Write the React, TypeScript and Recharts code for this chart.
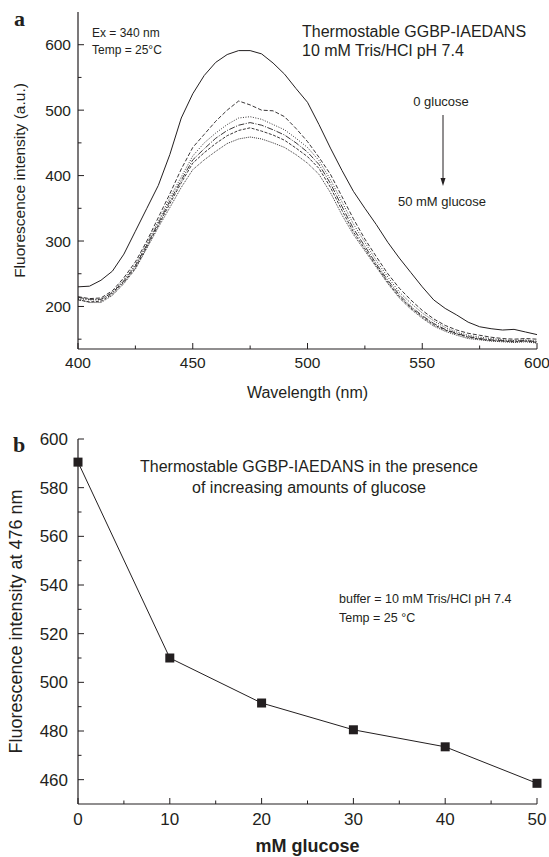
import { LineChart, Line, XAxis, YAxis } from "recharts"

const ink = "#231f20"

// panel a: emission spectra, one array per glucose level
const wavelengths = [
  400, 405, 410, 415, 420, 425, 430, 435, 440, 445, 450, 455, 460, 465, 470, 475, 480, 485, 490, 495,
  500, 505, 510, 515, 520, 525, 530, 535, 540, 545, 550, 555, 560, 565, 570, 575, 580, 585, 590, 595, 600,
]
const spec0mM = [
  230, 231, 240, 254, 280, 315, 350, 385, 432, 488, 525, 553, 573, 585, 591, 591, 586, 572, 555, 533,
  512, 478, 442, 408, 376, 350, 325, 298, 274, 252, 230, 210, 197, 187, 176, 169, 166, 164, 165, 161, 157,
]
const spec10mM = [
  215, 212, 213, 224, 244, 268, 300, 336, 372, 410, 443, 463, 483, 500, 514, 508, 500, 499, 490, 472,
  452, 428, 402, 368, 334, 303, 276, 250, 228, 210, 194, 181, 171, 164, 159, 156, 153, 151, 150, 151, 150,
]
const spec20mM = [
  212, 210, 210, 222, 241, 264, 297, 330, 366, 398, 430, 450, 465, 478, 488, 490, 486, 478, 470, 457,
  443, 423, 394, 360, 326, 298, 270, 245, 222, 205, 190, 178, 168, 161, 156, 153, 151, 149, 148, 149, 147,
]
const spec30mM = [
  214, 211, 211, 221, 239, 262, 294, 327, 361, 393, 424, 441, 457, 469, 477, 481, 477, 470, 462, 450,
  436, 417, 388, 353, 319, 292, 265, 240, 218, 200, 186, 174, 165, 159, 154, 151, 149, 148, 147, 148, 146,
]
const spec40mM = [
  210, 207, 208, 219, 237, 259, 291, 324, 357, 389, 419, 435, 449, 461, 469, 473, 468, 462, 454, 442,
  429, 411, 382, 347, 314, 288, 262, 237, 215, 198, 184, 172, 164, 158, 153, 150, 148, 147, 146, 147, 145,
]
const spec50mM = [
  211, 206, 206, 217, 235, 257, 289, 321, 351, 382, 409, 424, 437, 449, 456, 459, 456, 450, 443, 432,
  419, 402, 374, 340, 310, 285, 260, 235, 213, 196, 182, 170, 162, 156, 151, 149, 147, 146, 145, 146, 144,
]

const specTicksX = [400, 425, 450, 475, 500, 525, 550, 575, 600]
const specMajorX = [400, 450, 500, 550, 600]
const specTicksY = [150, 200, 250, 300, 350, 400, 450, 500, 550, 600]
const specMajorY = [200, 300, 400, 500, 600]

// panel b: intensity at 476 nm
const glucose = [0, 10, 20, 30, 40, 50]
const peak476 = [590.5, 510, 491.5, 480.5, 473.5, 458.5]

const glucTicksX = [0, 5, 10, 15, 20, 25, 30, 35, 40, 45, 50]
const glucMajorX = [0, 10, 20, 30, 40, 50]
const glucTicksY = [460, 470, 480, 490, 500, 510, 520, 530, 540, 550, 560, 570, 580, 590, 600]
const glucMajorY = [460, 480, 500, 520, 540, 560, 580, 600]

const spectra = wavelengths.map((w, i) => ({
  w,
  s0: spec0mM[i],
  s10: spec10mM[i],
  s20: spec20mM[i],
  s30: spec30mM[i],
  s40: spec40mM[i],
  s50: spec50mM[i],
}))
const titration = glucose.map((g, i) => ({ g, v: peak476[i] }))

// inward ticks, Origin style
const bottomTick = (majors: number[], gap: number, size: number) => (p: any) => {
  const major = majors.includes(p.payload.value)
  const y0 = p.y - gap
  return (
    <g>
      <line x1={p.x} x2={p.x} y1={y0} y2={y0 - (major ? 6 : 3.5)} stroke={ink} />
      {major && (
        <text x={p.x} y={p.y} dy="0.71em" textAnchor="middle" fontSize={size} fill={ink}>
          {p.payload.value}
        </text>
      )}
    </g>
  )
}
const leftTick = (majors: number[], gap: number, size: number) => (p: any) => {
  const major = majors.includes(p.payload.value)
  const x0 = p.x + gap
  return (
    <g>
      <line x1={x0} x2={x0 + (major ? 6 : 3.5)} y1={p.y} y2={p.y} stroke={ink} />
      {major && (
        <text x={p.x} y={p.y} dy="0.355em" textAnchor="end" fontSize={size} fill={ink}>
          {p.payload.value}
        </text>
      )}
    </g>
  )
}
const topTick = (majors: number[]) => (p: any) => (
  <line x1={p.x} x2={p.x} y1={p.y} y2={p.y + (majors.includes(p.payload.value) ? 6 : 3.5)} stroke={ink} />
)
const rightTick = (majors: number[]) => (p: any) => (
  <line x1={p.x} x2={p.x - (majors.includes(p.payload.value) ? 6 : 3.5)} y1={p.y} y2={p.y} stroke={ink} />
)

const axisLine = { stroke: ink, strokeWidth: 1.2 }

export default function App() {
  return (
    <div
      style={{
        position: "absolute",
        left: 0,
        top: 0,
        width: 549,
        height: 857,
        background: "#fff",
        fontFamily: '"Liberation Sans", Arial, sans-serif',
      }}
    >
      <div style={{ position: "absolute", left: 0, top: 0 }}>
        <LineChart width={549} height={410} data={spectra} margin={{ top: 12, right: 12, bottom: 0, left: 0 }}>
          <XAxis
            dataKey="w"
            type="number"
            domain={[400, 600]}
            ticks={specTicksX}
            interval={0}
            height={61}
            tickSize={0}
            tickMargin={8}
            tickLine={false}
            axisLine={axisLine}
            tick={bottomTick(specMajorX, 8, 15.5)}
            label={{ value: "Wavelength (nm)", position: "insideBottom", offset: 12, fontSize: 16, fill: ink }}
          />
          <XAxis
            xAxisId="top"
            orientation="top"
            type="number"
            domain={[400, 600]}
            ticks={specTicksX}
            interval={0}
            height={0}
            tickSize={0}
            tickMargin={0}
            tickLine={false}
            axisLine={axisLine}
            tick={topTick(specMajorX)}
          />
          <YAxis
            type="number"
            domain={[135, 650]}
            ticks={specTicksY}
            interval={0}
            width={78}
            tickSize={0}
            tickMargin={7}
            tickLine={false}
            axisLine={axisLine}
            tick={leftTick(specMajorY, 7, 15.5)}
            label={{
              value: "Fluorescence intensity (a.u.)",
              angle: -90,
              position: "insideLeft",
              offset: 19,
              fontSize: 15.5,
              fill: ink,
              style: { textAnchor: "middle" },
            }}
          />
          <YAxis
            yAxisId="right"
            orientation="right"
            type="number"
            domain={[135, 650]}
            ticks={specTicksY}
            interval={0}
            width={0}
            tickSize={0}
            tickMargin={0}
            tickLine={false}
            axisLine={axisLine}
            tick={rightTick(specMajorY)}
          />
          <Line dataKey="s0" stroke={ink} strokeWidth={1} dot={false} isAnimationActive={false} />
          <Line dataKey="s10" stroke={ink} strokeWidth={0.9} strokeDasharray="4 2" dot={false} isAnimationActive={false} />
          <Line dataKey="s20" stroke={ink} strokeWidth={0.9} strokeDasharray="1 1.5" dot={false} isAnimationActive={false} />
          <Line dataKey="s30" stroke={ink} strokeWidth={0.9} strokeDasharray="6 1.5 1 1.5" dot={false} isAnimationActive={false} />
          <Line dataKey="s40" stroke={ink} strokeWidth={0.9} strokeDasharray="3 1.5" dot={false} isAnimationActive={false} />
          <Line dataKey="s50" stroke={ink} strokeWidth={0.9} strokeDasharray="1 1" dot={false} isAnimationActive={false} />

          <text x={14} y={26} fontFamily='"Liberation Serif", "Times New Roman", serif' fontWeight="bold" fontSize={22} fill={ink}>
            a
          </text>
          <text x={92} y={37} fontSize={12} fill={ink}>Ex = 340 nm</text>
          <text x={92} y={54} fontSize={12} fill={ink}>Temp = 25°C</text>
          <text x={302} y={37} fontSize={16} fill={ink}>Thermostable GGBP-IAEDANS</text>
          <text x={302} y={56} fontSize={16} fill={ink}>10 mM Tris/HCl pH 7.4</text>
          <text x={441} y={106} fontSize={13} textAnchor="middle" fill={ink}>0 glucose</text>
          <line x1={443} x2={443} y1={115} y2={180} stroke={ink} strokeWidth={1} />
          <path d="M440.5 178 L445.5 178 L443 186 Z" fill={ink} />
          <text x={442} y={206} fontSize={13} textAnchor="middle" fill={ink}>50 mM glucose</text>
        </LineChart>
      </div>

      <div style={{ position: "absolute", left: 0, top: 425 }}>
        <LineChart width={549} height={432} data={titration} margin={{ top: 14, right: 12, bottom: 0, left: 0 }}>
          <XAxis
            dataKey="g"
            type="number"
            domain={[0, 50]}
            ticks={glucTicksX}
            interval={0}
            height={53}
            tickSize={0}
            tickMargin={9}
            tickLine={false}
            axisLine={axisLine}
            tick={bottomTick(glucMajorX, 9, 17)}
            label={{ value: "mM glucose", position: "insideBottom", offset: 5, fontSize: 18, fontWeight: "bold", fill: ink }}
          />
          <XAxis
            xAxisId="top"
            orientation="top"
            type="number"
            domain={[0, 50]}
            ticks={glucTicksX}
            interval={0}
            height={0}
            tickSize={0}
            tickMargin={0}
            tickLine={false}
            axisLine={axisLine}
            tick={topTick(glucMajorX)}
          />
          <YAxis
            type="number"
            domain={[450, 600]}
            ticks={glucTicksY}
            interval={0}
            width={78}
            tickSize={0}
            tickMargin={10}
            tickLine={false}
            axisLine={axisLine}
            tick={leftTick(glucMajorY, 10, 17)}
            label={{
              value: "Fluorescence intensity at 476 nm",
              angle: -90,
              position: "insideLeft",
              offset: 16,
              fontSize: 18,
              fill: ink,
              style: { textAnchor: "middle" },
            }}
          />
          <YAxis
            yAxisId="right"
            orientation="right"
            type="number"
            domain={[450, 600]}
            ticks={glucTicksY}
            interval={0}
            width={0}
            tickSize={0}
            tickMargin={0}
            tickLine={false}
            axisLine={axisLine}
            tick={rightTick(glucMajorY)}
          />
          <Line
            dataKey="v"
            stroke={ink}
            strokeWidth={1}
            isAnimationActive={false}
            dot={(p: any) => <rect key={p.index} x={p.cx - 4.5} y={p.cy - 4.5} width={9} height={9} fill={ink} />}
          />

          <text x={13} y={27} fontFamily='"Liberation Serif", "Times New Roman", serif' fontWeight="bold" fontSize={22} fill={ink}>
            b
          </text>
          <text x={309} y={47} fontSize={16} textAnchor="middle" fill={ink}>
            Thermostable GGBP-IAEDANS in the presence
          </text>
          <text x={309} y={68} fontSize={16} textAnchor="middle" fill={ink}>
            of increasing amounts of glucose
          </text>
          <text x={339} y={178} fontSize={12.5} fill={ink}>buffer = 10 mM Tris/HCl pH 7.4</text>
          <text x={339} y={197} fontSize={12.5} fill={ink}>Temp = 25 °C</text>
        </LineChart>
      </div>
    </div>
  )
}
